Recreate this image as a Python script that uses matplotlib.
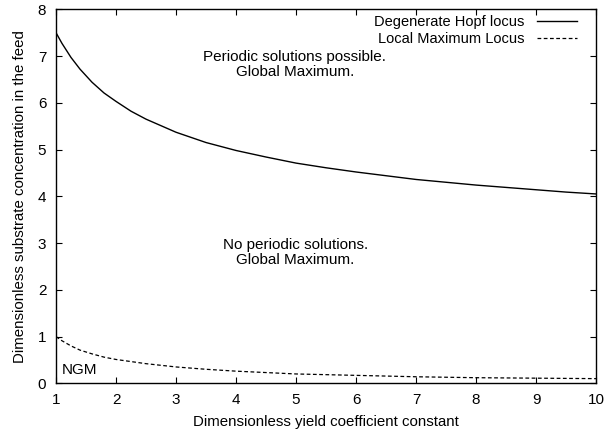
import matplotlib
matplotlib.use("Agg")
import matplotlib.pyplot as plt

plt.rcParams['font.family'] = ['Liberation Sans', 'DejaVu Sans']

# Data
x_hopf = [1, 1.1, 1.25, 1.4, 1.6, 1.8, 2, 2.25, 2.5, 3, 3.5, 4, 4.5, 5, 5.5, 6, 6.5, 7, 7.5, 8, 8.5, 9, 9.5, 10]
y_hopf = [7.5, 7.27, 6.97, 6.72, 6.44, 6.21, 6.03, 5.82, 5.65, 5.37, 5.15, 4.98, 4.84, 4.71,
          4.61, 4.52, 4.44, 4.36, 4.30, 4.24, 4.19, 4.14, 4.09, 4.05]
x_lmax = [1, 1.1, 1.25, 1.4, 1.6, 1.8, 2, 2.5, 3, 3.5, 4, 5, 6, 7, 8, 9, 10]
y_lmax = [1.0, 0.91, 0.8, 0.71, 0.63, 0.56, 0.51, 0.42, 0.35, 0.30, 0.26, 0.20, 0.17, 0.14,
          0.12, 0.11, 0.10]

xticks = [1, 2, 3, 4, 5, 6, 7, 8, 9, 10]
yticks = [0, 1, 2, 3, 4, 5, 6, 7, 8]

fig = plt.figure(figsize=(6.04, 4.32), dpi=100)
ax = fig.add_axes([0.0927, 0.1127, 0.8943, 0.8658])

ax.plot(x_hopf, y_hopf, color='black', lw=1.0, label='Degenerate Hopf locus')
ax.plot(x_lmax, y_lmax, color='black', lw=0.9, linestyle=(0, (3, 2)), label='Local Maximum Locus')

ax.set_xlim(1, 10)
ax.set_ylim(0, 8)
ax.set_xticks(xticks)
ax.set_yticks(yticks)
ax.tick_params(direction='in', length=4, width=0.8, top=True, right=True,
               labelsize=11, pad=7)
for s in ax.spines.values():
    s.set_linewidth(1.0)

ax.set_xlabel('Dimensionless yield coefficient constant', fontsize=10.8, labelpad=6)
ax.set_ylabel('Dimensionless substrate concentration in the feed', fontsize=10.8, labelpad=8)

ax.text(4.98, 6.82, 'Periodic solutions possible.\nGlobal Maximum.', ha='center', va='center',
        multialignment='center', fontsize=11, linespacing=1.05)
ax.text(4.99, 2.80, 'No periodic solutions.\nGlobal Maximum.', ha='center', va='center',
        multialignment='center', fontsize=11, linespacing=1.05)
ax.text(1.095, 0.28, 'NGM', ha='left', va='center', fontsize=11)

leg = ax.legend(loc='upper right', bbox_to_anchor=(0.976, 1.0), frameon=False,
                markerfirst=False, fontsize=10.5, handlelength=2.8, handletextpad=0.8,
                borderaxespad=0.0, labelspacing=0.2)

fig.savefig('out.png', dpi=100)
